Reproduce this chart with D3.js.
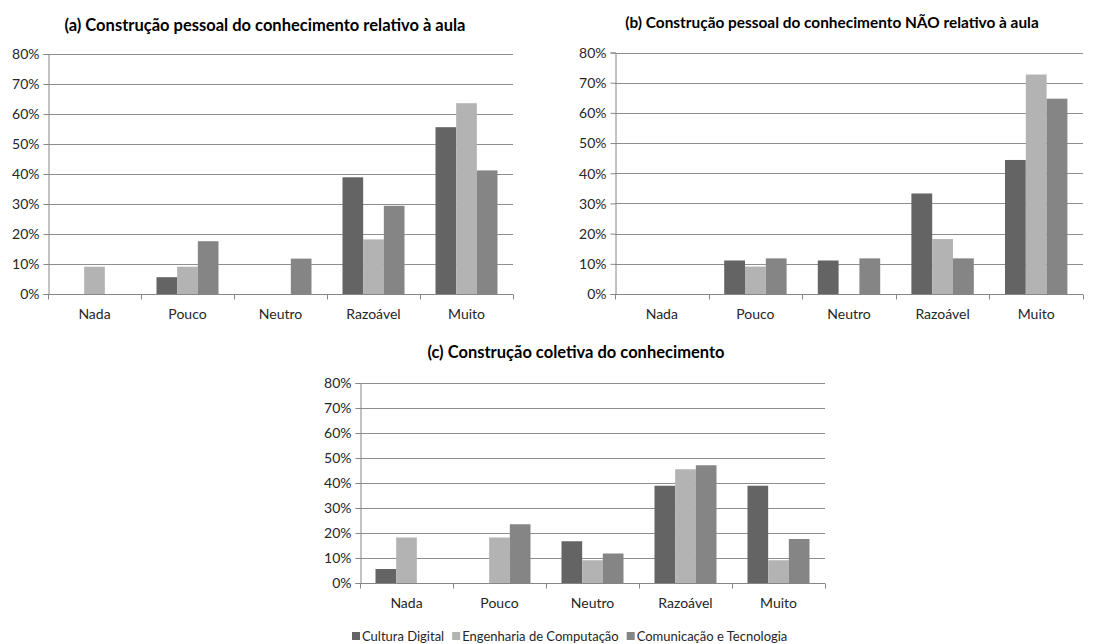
<!DOCTYPE html>
<html>
<head>
<meta charset="utf-8">
<script src="https://cdn.jsdelivr.net/npm/d3@7"></script>
<style>
  body { margin: 0; background: #fff; }
  svg text { font-family: Lato, "Open Sans", sans-serif; fill: #262626; }
</style>
</head>
<body>
<script>
// categories / series
var categories = ['Nada', 'Pouco', 'Neutro', 'Razoável', 'Muito'];
var seriesNames = ['Cultura Digital', 'Engenharia de Computação', 'Comunicação e Tecnologia'];
var seriesColors = ['#646464', '#b3b3b3', '#858585'];
var yTicks = [0, 0.1, 0.2, 0.3, 0.4, 0.5, 0.6, 0.7, 0.8];

// (a) relativo à aula
var aCultura = [0, 0.056, 0, 0.389, 0.556];
var aEngenharia = [0.091, 0.091, 0, 0.182, 0.636];
var aComunicacao = [0, 0.176, 0.118, 0.294, 0.412];

// (b) NÃO relativo à aula
var bCultura = [0, 0.111, 0.111, 0.333, 0.444];
var bEngenharia = [0, 0.091, 0, 0.182, 0.727];
var bComunicacao = [0, 0.118, 0.118, 0.118, 0.647];

// (c) coletiva
var cCultura = [0.056, 0, 0.167, 0.389, 0.389];
var cEngenharia = [0.182, 0.182, 0.091, 0.455, 0.091];
var cComunicacao = [0, 0.235, 0.118, 0.471, 0.176];

var width = 1108, height = 644;

var svg = d3.select('body').append('svg')
    .attr('width', width)
    .attr('height', height);

var drawChart = function(opts) {
    var g = svg.append('g');

    var x0 = d3.scaleBand().domain(categories).range([opts.left, opts.right]).padding(0);
    var x1 = d3.scaleBand().domain(seriesNames).range([0, x0.bandwidth()])
        .paddingInner(0).paddingOuter(0.75);
    var y = d3.scaleLinear().domain([0, 0.8]).range([opts.bottom, opts.top]);

    // grid
    g.selectAll('.grid').data(yTicks.slice(1)).enter().append('line')
        .attr('x1', opts.left).attr('x2', opts.right)
        .attr('y1', function(d) { return Math.round(y(d)) + 0.5; })
        .attr('y2', function(d) { return Math.round(y(d)) + 0.5; })
        .attr('stroke', '#8e8e8e').attr('stroke-width', 1);

    // bars
    var rows = categories.map(function(c, i) {
        return opts.values.map(function(s, j) { return {cat: c, ser: seriesNames[j], v: s[i], col: seriesColors[j]}; });
    });
    g.selectAll('.grp').data(rows).enter().append('g')
        .attr('transform', function(d) { return 'translate(' + x0(d[0].cat) + ',0)'; })
      .selectAll('rect').data(function(d) { return d.filter(function(e) { return e.v > 0; }); })
      .enter().append('rect')
        .attr('x', function(d) { return x1(d.ser); })
        .attr('width', x1.bandwidth())
        .attr('y', function(d) { return y(d.v); })
        .attr('height', function(d) { return y(0) - y(d.v); })
        .attr('fill', function(d) { return d.col; });

    // y axis
    var yAxis = d3.axisLeft(y).tickValues(yTicks).tickSize(5).tickPadding(4)
        .tickFormat(d3.format('.0%'));
    var ya = g.append('g').attr('transform', 'translate(' + (opts.left + 0.5) + ',0)').call(yAxis);
    ya.select('.domain').attr('stroke', '#868686');
    ya.selectAll('.tick line').attr('stroke', '#868686');
    ya.selectAll('.tick text').style('font-size', '14px').attr('dy', '0.35em');

    // x axis line + boundary ticks
    var bottom = Math.round(opts.bottom) + 0.5;
    g.append('line').attr('x1', opts.left).attr('x2', opts.right)
        .attr('y1', bottom).attr('y2', bottom).attr('stroke', '#868686');
    var bounds = categories.map(function(c) { return x0(c); }).concat([opts.right]);
    g.selectAll('.xt').data(bounds).enter().append('line')
        .attr('x1', function(d) { return Math.round(d) + 0.5; })
        .attr('x2', function(d) { return Math.round(d) + 0.5; })
        .attr('y1', bottom).attr('y2', bottom + 5)
        .attr('stroke', '#868686');
    g.selectAll('.xl').data(categories).enter().append('text')
        .attr('x', function(d) { return x0(d) + x0.bandwidth() / 2; })
        .attr('y', bottom + 20)
        .attr('dy', '0.35em')
        .attr('text-anchor', 'middle')
        .style('font-size', '14px')
        .text(function(d) { return d; });

    // title
    g.append('text')
        .attr('x', opts.titleX).attr('y', opts.titleY)
        .attr('dy', '0.35em')
        .attr('text-anchor', 'middle')
        .style('font-size', opts.titleSize + 'px').style('font-weight', 'bold').style('fill', '#000')
        .text(opts.title);
};

drawChart({
    left: 48, right: 513, top: 54, bottom: 294,
    values: [aCultura, aEngenharia, aComunicacao],
    title: '(a) Construção pessoal do conhecimento relativo à aula',
    titleX: 265, titleY: 25, titleSize: 16.5
});
drawChart({
    left: 615, right: 1083, top: 52.5, bottom: 294,
    values: [bCultura, bEngenharia, bComunicacao],
    title: '(b) Construção pessoal do conhecimento NÃO relativo à aula',
    titleX: 832, titleY: 23, titleSize: 15.4
});
drawChart({
    left: 360, right: 825, top: 383, bottom: 583,
    values: [cCultura, cEngenharia, cComunicacao],
    title: '(c) Construção coletiva do conhecimento',
    titleX: 576, titleY: 352, titleSize: 16.5
});

// legend
var legend = svg.append('g');
var lx = 352;
seriesNames.forEach(function(name, i) {
    legend.append('rect').attr('x', lx).attr('y', 632).attr('width', 8).attr('height', 8)
        .attr('fill', seriesColors[i]);
    var t = legend.append('text').attr('x', lx + 10).attr('y', 636).attr('dy', '0.35em')
        .style('font-size', '13px').text(name);
    lx += 10 + t.node().getComputedTextLength() + 8;
});
</script>
</body>
</html>
